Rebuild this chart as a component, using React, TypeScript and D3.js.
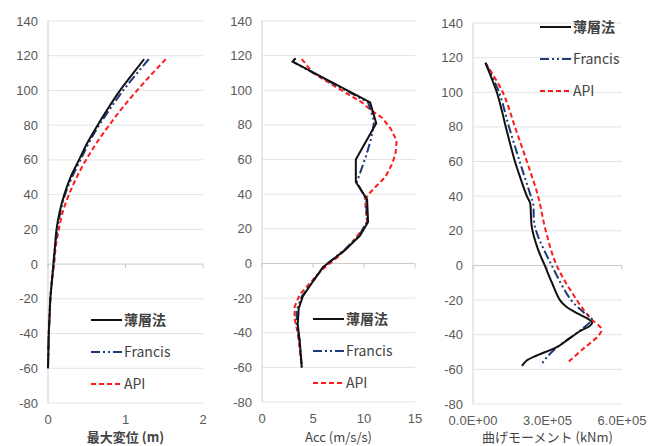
import React from 'react';
import * as d3 from 'd3';

const W = 649;
const H = 446;
const FONT = '"Noto Sans CJK JP", "Noto Sans", sans-serif';
const NUM_FONT = '"Liberation Sans", Arial, sans-serif';

const seriesNames = ['薄層法', 'Francis', 'API'];
const yTicks = [140, 120, 100, 80, 60, 40, 20, 0, -20, -40, -60, -80];

// panel 1: max displacement (m)
const dispDepth = [118, 110, 100, 90, 80, 70, 60, 50, 40, 30, 20, 10, 0, -10, -20, -30, -40, -50, -60];
const dispThin = [1.24, 1.1, 0.93, 0.78, 0.64, 0.51, 0.4, 0.29, 0.21, 0.15, 0.11, 0.09, 0.07, 0.05, 0.03, 0.02, 0.01, 0.005, 0];
const dispFrancis = [1.3, 1.15, 0.97, 0.81, 0.66, 0.53, 0.42, 0.31, 0.22, 0.16, 0.12, 0.09, 0.07, 0.05, 0.03, 0.02, 0.01, 0.005, 0];
const dispApi = [1.52, 1.35, 1.15, 0.96, 0.79, 0.63, 0.49, 0.37, 0.27, 0.19, 0.14, 0.1, 0.08, 0.05, 0.03, 0.02, 0.01, 0.005, 0];
const dispTicks = [0, 1, 2];

// panel 2: acceleration (m/s/s)
const accThinDepth = [118.5, 116.5, 93, 81, 60, 47, 37, 24, 16, 8, -2, -12, -19, -26, -35, -45, -60];
const accThin = [3.3, 3.0, 10.6, 11.2, 9.2, 9.2, 10.3, 10.4, 9.6, 8.2, 6.0, 4.8, 4.0, 3.6, 3.5, 3.7, 3.9];
const accFrancisDepth = [118, 116.5, 93, 82, 72, 62, 52, 47, 37, 24, 16, 8, -2, -12, -19, -27, -35, -45, -60];
const accFrancis = [3.2, 3.0, 10.4, 11.0, 10.7, 10.2, 9.6, 9.3, 10.2, 10.3, 9.5, 8.1, 6.0, 4.8, 3.9, 3.4, 3.4, 3.7, 3.9];
const accApiDepth = [118, 110, 101, 93, 88, 84, 78, 71, 64, 58, 50, 41, 37, 30, 24, 20, 12, 4, -3, -12, -18, -25, -32, -40, -50, -60];
const accApi = [3.9, 5.0, 7.5, 9.8, 10.8, 11.8, 12.6, 13.2, 13.1, 12.8, 12.1, 10.6, 10.1, 10.2, 10.3, 9.9, 8.8, 7.5, 6.0, 4.6, 3.7, 3.2, 3.2, 3.5, 3.7, 3.9];
const accTicks = [0, 5, 10, 15];

// panel 3: bending moment (kNm)
const momThinDepth = [117, 100, 90, 80, 70, 60, 50, 40, 36, 30, 22, 10, 0, -10, -20, -24, -28, -31, -33, -35, -38, -42, -47, -52, -55, -58];
const momThin = [0.5e5, 0.96e5, 1.15e5, 1.32e5, 1.5e5, 1.69e5, 1.92e5, 2.17e5, 2.3e5, 2.33e5, 2.37e5, 2.6e5, 2.89e5, 3.18e5, 3.5e5, 3.77e5, 4.25e5, 4.65e5, 4.8e5, 4.7e5, 4.3e5, 3.9e5, 3.4e5, 2.57e5, 2.15e5, 1.97e5];
const momFrancisDepth = [117, 100, 80, 60, 40, 36, 22, 0, -20, -27, -31, -36, -41, -47, -53, -58];
const momFrancis = [0.5e5, 1.05e5, 1.45e5, 1.88e5, 2.33e5, 2.42e5, 2.5e5, 3.17e5, 3.95e5, 4.45e5, 4.78e5, 4.45e5, 3.98e5, 3.4e5, 2.97e5, 2.72e5];
const momApiDepth = [117, 100, 80, 60, 40, 20, 0, -20, -30, -37, -41, -48, -56];
const momApi = [0.5e5, 1.2e5, 1.69e5, 2.17e5, 2.62e5, 2.93e5, 3.37e5, 4.18e5, 4.7e5, 5.18e5, 5.02e5, 4.45e5, 3.82e5];
const momTicks = [0, 3e5, 6e5];

const styles = [
  { color: '#111111', dash: 'none', width: 2 },
  { color: '#1f3a7a', dash: '9,3,2,3,2,3', width: 2 },
  { color: '#ff1a1a', dash: '5,3', width: 2 },
];

// Excel style 0.0E+00
function fmtE(v: number) {
  const s = d3.format('.1e')(v);
  const [m, e] = s.split('e');
  const sign = e[0] === '-' ? '-' : '+';
  const digits = e.replace(/[+-]/, '').padStart(2, '0');
  return `${m}E${sign}${digits}`;
}

type Panel = {
  left: number;
  right: number;
  top: number;
  bottom: number;
  xMax: number;
  xTicks: number[];
  fmt: (v: number) => string;
  title: string;
  bold: boolean;
  curve: d3.CurveFactory;
  series: { depth: number[]; vals: number[] }[];
  legend: { x: number; y: number };
};

const panels: Panel[] = [
  {
    left: 48, right: 203, top: 21, bottom: 403, xMax: 2, xTicks: dispTicks,
    fmt: (v) => String(v), title: '最大変位 (m)', bold: true, curve: d3.curveMonotoneY,
    series: [
      { depth: dispDepth, vals: dispThin },
      { depth: dispDepth, vals: dispFrancis },
      { depth: dispDepth, vals: dispApi },
    ],
    legend: { x: 91, y: 320 },
  },
  {
    left: 262, right: 415, top: 21, bottom: 402, xMax: 15, xTicks: accTicks,
    fmt: (v) => String(v), title: 'Acc (m/s/s)', bold: false, curve: d3.curveLinear,
    series: [
      { depth: accThinDepth, vals: accThin },
      { depth: accFrancisDepth, vals: accFrancis },
      { depth: accApiDepth, vals: accApi },
    ],
    legend: { x: 313, y: 319 },
  },
  {
    left: 473, right: 622, top: 23, bottom: 404, xMax: 6e5, xTicks: momTicks,
    fmt: fmtE, title: '曲げモーメント (kNm)', bold: false,
    curve: d3.curveCatmullRom.alpha(0.5),
    series: [
      { depth: momThinDepth, vals: momThin },
      { depth: momFrancisDepth, vals: momFrancis },
      { depth: momApiDepth, vals: momApi },
    ],
    legend: { x: 540, y: 27 },
  },
];

function ChartPanel({ p }: { p: Panel }) {
  const x = d3.scaleLinear().domain([0, p.xMax]).range([p.left, p.right]);
  const y = d3.scaleLinear().domain([-80, 140]).range([p.bottom, p.top]);

  return (
    <g>
      {yTicks.map((t) => (
        <line key={'g' + t} x1={p.left} x2={p.right} y1={y(t)} y2={y(t)}
          stroke={t === 0 ? '#c8c8c8' : '#e3e3e3'} strokeWidth={1} />
      ))}
      <line x1={p.left} x2={p.left} y1={p.top} y2={p.bottom} stroke="#d0d0d0" />
      {p.xTicks.map((t) => (
        <line key={'xt' + t} x1={x(t)} x2={x(t)} y1={y(0)} y2={y(0) + 4} stroke="#c8c8c8" />
      ))}
      {yTicks.map((t) => (
        <text key={'yl' + t} x={p.left - 10} y={y(t)} dy="0.35em" textAnchor="end"
          fontSize={13} fill="#595959" fontFamily={NUM_FONT}>{t}</text>
      ))}
      {p.xTicks.map((t) => (
        <text key={'xl' + t} x={x(t)} y={p.bottom + 21} textAnchor="middle"
          fontSize={13} fill="#595959" fontFamily={NUM_FONT}>{p.fmt(t)}</text>
      ))}
      <text x={(p.left + p.right) / 2} y={442} textAnchor="middle" fontSize={13}
        fontWeight={p.bold ? 700 : 400} fill="#444" fontFamily={FONT}>{p.title}</text>
      {p.series.map((s, i) => {
        const pts = s.depth.map((d, j) => [x(s.vals[j]), y(d)] as [number, number]);
        const line = d3.line().curve(p.curve);
        return (
          <path key={'s' + i} d={line(pts) || ''} fill="none" stroke={styles[i].color}
            strokeWidth={styles[i].width} strokeDasharray={styles[i].dash} strokeLinejoin="round" />
        );
      }).reverse()}
      {seriesNames.map((n, i) => {
        const ly = p.legend.y + i * 32;
        return (
          <g key={'lg' + i}>
            <line x1={p.legend.x} x2={p.legend.x + 31} y1={ly} y2={ly} stroke={styles[i].color}
              strokeWidth={2} strokeDasharray={styles[i].dash} />
            <text x={p.legend.x + 33} y={ly} dy="0.36em" fontSize={14} fontWeight={i === 0 ? 700 : 400}
              fill="#444" fontFamily={FONT}>{n}</text>
          </g>
        );
      })}
    </g>
  );
}

export default function App() {
  return (
    <svg width={W} height={H} style={{ position: 'fixed', left: 0, top: 0, background: '#fff' }}>
      <rect width={W} height={H} fill="#fff" />
      {panels.map((p, i) => (
        <ChartPanel key={i} p={p} />
      ))}
    </svg>
  );
}
